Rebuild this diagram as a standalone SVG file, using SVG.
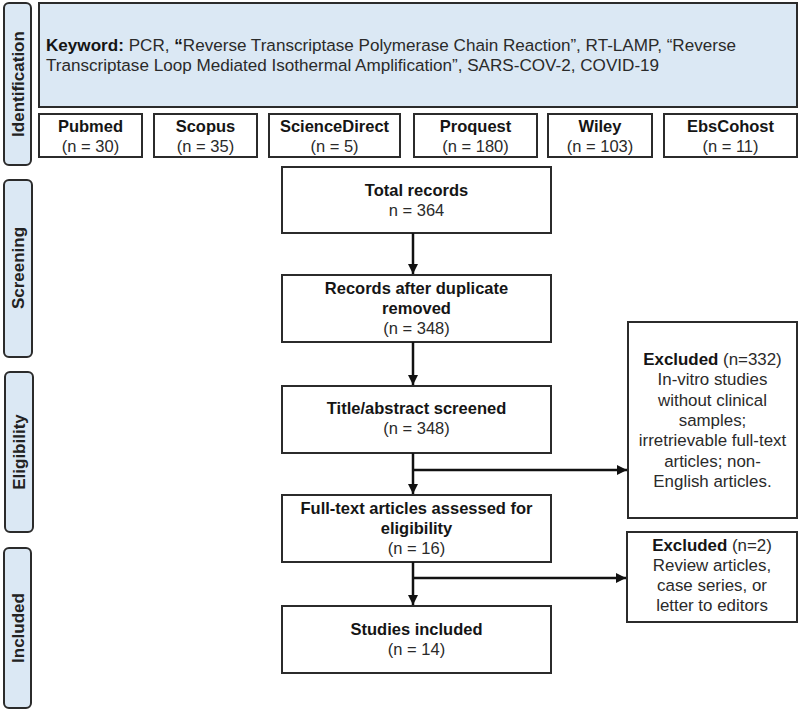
<svg xmlns="http://www.w3.org/2000/svg" width="800" height="712" viewBox="0 0 800 712">
<defs>
<style>
.box{fill:#fff;stroke:#2b2b2b;stroke-width:2}
.blue{fill:#dbe8f4;stroke:#2b2b2b;stroke-width:2}
text{font-family:"Liberation Sans",Arial,sans-serif;font-size:16.5px;fill:#2a2a2a;text-anchor:middle;dominant-baseline:central}
.b{font-weight:bold;fill:#151515}
.kw{font-size:17.1px;text-anchor:start}
.ex{font-size:16.9px}
.side{font-weight:bold;font-size:17px;fill:#222}
.line{stroke:#111;stroke-width:2.5;fill:none}
</style>
<marker id="ah" viewBox="0 0 10 10" refX="10" refY="5" markerWidth="10" markerHeight="10" markerUnits="userSpaceOnUse" orient="auto">
<path d="M0,0 L10,5 L0,10 z" fill="#111"/>
</marker>
</defs>
<rect width="800" height="712" fill="#fff"/>

<g id="side-identification"><rect class="blue" x="4" y="3" width="27" height="162" rx="5"/><text class="side" transform="translate(18,84) rotate(-90)">Identification</text></g>
<g id="side-screening"><rect class="blue" x="4" y="180" width="28" height="177" rx="5"/><text class="side" transform="translate(18,268) rotate(-90)">Screening</text></g>
<g id="side-eligibility"><rect class="blue" x="5" y="372" width="28" height="160" rx="5"/><text class="side" transform="translate(19,452) rotate(-90)">Eligibility</text></g>
<g id="side-included"><rect class="blue" x="4" y="548" width="27" height="160" rx="5"/><text class="side" transform="translate(18,628) rotate(-90)">Included</text></g>

<g id="keyword"><rect class="blue" x="39" y="3" width="758" height="104"/>
<text class="kw" x="46" y="45"><tspan class="b">Keyword:</tspan> PCR, <tspan class="b">“</tspan>Reverse Transcriptase Polymerase Chain Reaction”, RT-LAMP, “Reverse</text>
<text class="kw" x="46" y="65">Transcriptase Loop Mediated Isothermal Amplification”, SARS-COV-2, COVID-19</text></g>

<g id="pubmed"><rect class="box" x="39" y="114" width="103" height="43"/><text class="b" x="90.5" y="126">Pubmed</text><text x="90.5" y="146">(n = 30)</text></g>
<g id="scopus"><rect class="box" x="154" y="114" width="103" height="43"/><text class="b" x="205.5" y="126">Scopus</text><text x="205.5" y="146">(n = 35)</text></g>
<g id="sciencedirect"><rect class="box" x="269" y="114" width="131" height="43"/><text class="b" x="334.5" y="126">ScienceDirect</text><text x="334.5" y="146">(n = 5)</text></g>
<g id="proquest"><rect class="box" x="414" y="114" width="123" height="43"/><text class="b" x="475.5" y="126">Proquest</text><text x="475.5" y="146">(n = 180)</text></g>
<g id="wiley"><rect class="box" x="548" y="114" width="104" height="43"/><text class="b" x="600" y="126">Wiley</text><text x="600" y="146">(n = 103)</text></g>
<g id="ebscohost"><rect class="box" x="664" y="114" width="133" height="43"/><text class="b" x="730.5" y="126">EbsCohost</text><text x="730.5" y="146">(n = 11)</text></g>

<g id="total"><rect class="box" x="282" y="167" width="269" height="66"/><text class="b" x="416.5" y="190">Total records</text><text x="416.5" y="210">n = 364</text></g>
<g id="dedup"><rect class="box" x="282" y="275" width="269" height="67"/><text class="b" x="416.5" y="288">Records after duplicate</text><text class="b" x="416.5" y="308">removed</text><text x="416.5" y="328">(n = 348)</text></g>
<g id="title"><rect class="box" x="282" y="386" width="269" height="67"/><text class="b" x="416.5" y="408">Title/abstract screened</text><text x="416.5" y="428">(n = 348)</text></g>
<g id="fulltext"><rect class="box" x="282" y="495" width="269" height="67"/><text class="b" x="416.5" y="508">Full-text articles assessed for</text><text class="b" x="416.5" y="528">eligibility</text><text x="416.5" y="548">(n = 16)</text></g>
<g id="included"><rect class="box" x="282" y="606" width="269" height="67"/><text class="b" x="416.5" y="629">Studies included</text><text x="416.5" y="649">(n = 14)</text></g>

<g id="excluded1"><rect class="box" x="628" y="322" width="169" height="196"/>
<text class="ex" x="712.5" y="359"><tspan class="b">Excluded</tspan> (n=332)</text>
<text class="ex" x="712.5" y="379.5">In-vitro studies</text>
<text class="ex" x="712.5" y="400">without clinical</text>
<text class="ex" x="712.5" y="420">samples;</text>
<text class="ex" x="712.5" y="440.5">irretrievable full-text</text>
<text class="ex" x="712.5" y="461">articles; non-</text>
<text class="ex" x="712.5" y="481.5">English articles.</text></g>
<g id="excluded2"><rect class="box" x="627" y="532" width="170" height="90"/>
<text class="ex" x="712" y="545"><tspan class="b">Excluded</tspan> (n=2)</text>
<text class="ex" x="712" y="565">Review articles,</text>
<text class="ex" x="712" y="585">case series, or</text>
<text class="ex" x="712" y="605">letter to editors</text></g>

<g id="connectors">
<line class="line" x1="413" y1="233" x2="413" y2="274" marker-end="url(#ah)"/>
<line class="line" x1="413" y1="342" x2="413" y2="385" marker-end="url(#ah)"/>
<line class="line" x1="413" y1="453" x2="413" y2="494" marker-end="url(#ah)"/>
<line class="line" x1="413" y1="470" x2="627" y2="470" marker-end="url(#ah)"/>
<line class="line" x1="413" y1="562" x2="413" y2="605" marker-end="url(#ah)"/>
<line class="line" x1="413" y1="578" x2="626" y2="578" marker-end="url(#ah)"/>
</g>
</svg>
